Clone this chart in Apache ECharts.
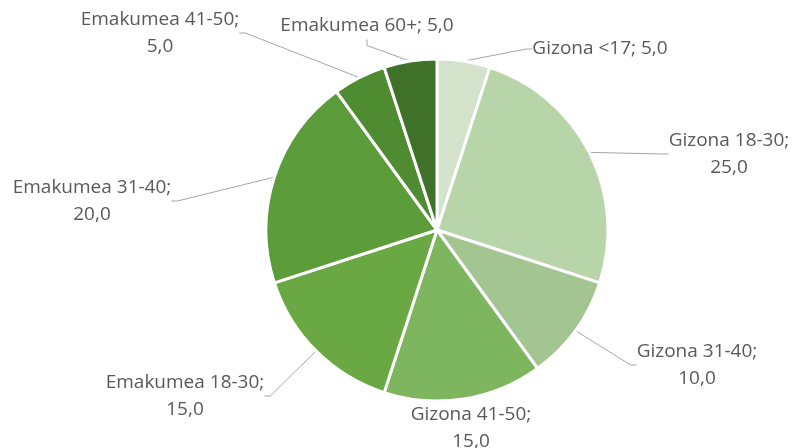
<!DOCTYPE html>
<html><head><meta charset="utf-8">
<script src="https://cdn.jsdelivr.net/npm/echarts@6/dist/echarts.min.js"></script>
<style>html,body{margin:0;padding:0;background:#fff}#c{width:796px;height:448px}</style>
</head><body><div id="c"></div>
<script>
const categories = ['Gizona <17','Gizona 18-30','Gizona 31-40','Gizona 41-50','Emakumea 18-30','Emakumea 31-40','Emakumea 41-50','Emakumea 60+'];
const values = [5,25,10,15,15,20,5,5];
const colors = ['#d3e2cb','#b8d5a9','#a3c592','#7db65f','#6aa843','#5c9c3a','#4f8b31','#3f7128'];
const singleLine = [true,false,false,false,false,false,false,true];
// label centre positions (layout only)
const labelPos = [
  [600,49],[729,154],[697,365],[471,428],
  [185,396],[92,201],[160,33],[367,26]
];
const chart = echarts.init(document.getElementById('c'));
chart.setOption({
  animation:false,
  series:[{
    type:'pie',
    center:[437,230],
    radius:171,
    startAngle:90,
    clockwise:true,
    data: categories.map((n,i)=>({name:n,value:values[i],itemStyle:{color:colors[i]},labelLine:{show:i!==3}})),
    itemStyle:{borderColor:'#fff',borderWidth:3},
    label:{
      show:true,
      formatter:p=>p.name+';'+(singleLine[p.dataIndex]?' ':'\n')+p.value.toFixed(1).replace('.',','),
      color:'#595959',fontFamily:'Open Sans',fontSize:19,lineHeight:27,align:'center'
    },
    labelLine:{show:true,length2:6,lineStyle:{color:'#a6a6a6',width:1}},
    labelLayout:function(p){
      const lp = labelPos[p.dataIndex];
      return {x:lp[0],y:lp[1],align:'center',verticalAlign:'middle'};
    }
  }]
});
</script></body></html>
